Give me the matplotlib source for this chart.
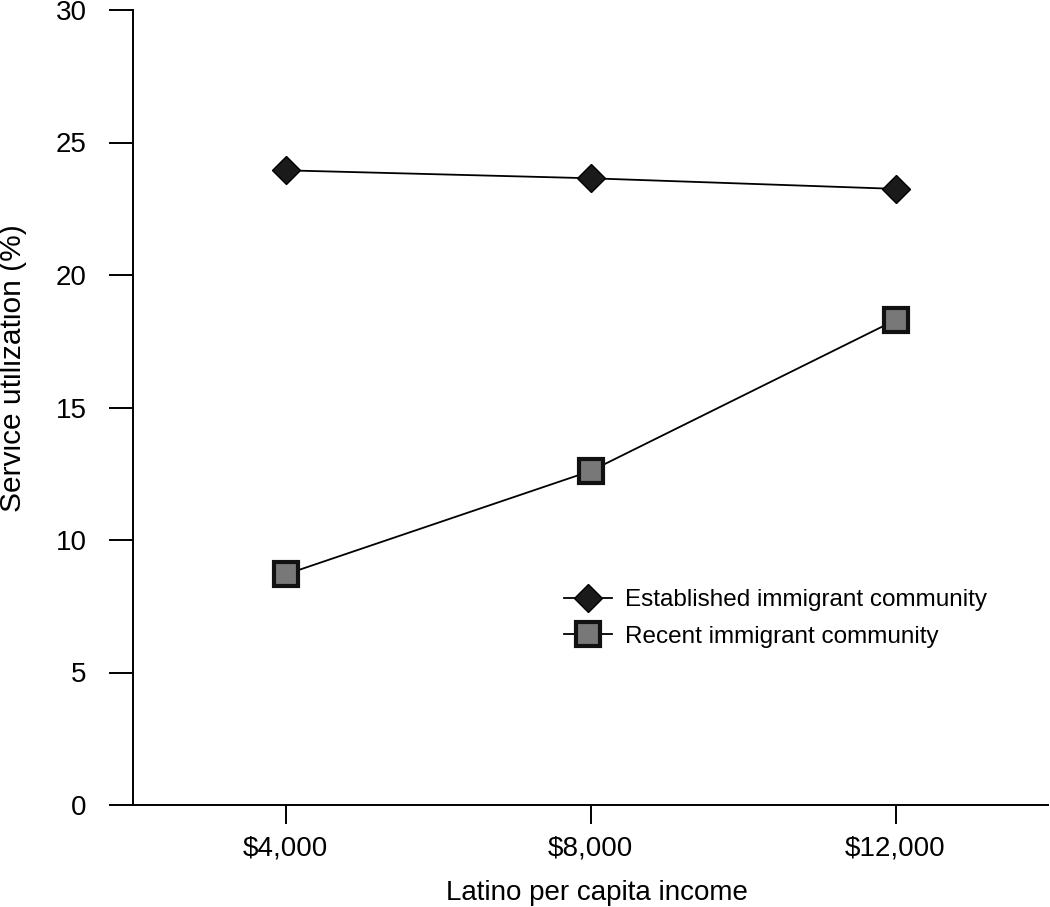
import matplotlib
matplotlib.use("Agg")
import matplotlib.pyplot as plt

income = [4000, 8000, 12000]
tick_labels = ["$4,000", "$8,000", "$12,000"]
established = [23.95, 23.65, 23.25]
recent = [8.7, 12.6, 18.3]
yticks = [0, 5, 10, 15, 20, 25, 30]

plt.rcParams['font.family'] = ['Liberation Sans', 'DejaVu Sans']

fig = plt.figure(figsize=(10.5, 9.07), dpi=100)
ax = fig.add_axes([133/1050, 102/907, (1048-133)/1050, (805-10)/907])

ax.plot(income, established, color='black', lw=1.3, marker='D', markersize=14,
        markerfacecolor='#1a1a1a', markeredgecolor='black', label='Established immigrant community')
ax.plot(income, recent, color='black', lw=1.3, marker='s', markersize=17,
        markerfacecolor='#787878', markeredgecolor='#111111', markeredgewidth=3,
        label='Recent immigrant community')

ax.set_xlim(2000, 14000)
ax.set_ylim(0, 30)
ax.set_xticks(income)
ax.set_xticklabels(tick_labels)
ax.set_yticks(yticks)
for s in ['top', 'right']:
    ax.spines[s].set_visible(False)
for s in ['left', 'bottom']:
    ax.spines[s].set_linewidth(1.4)
ax.tick_params(axis='y', length=17.3, width=1.4, labelsize=20, pad=16)
ax.tick_params(axis='x', length=13.7, width=1.4, labelsize=20, pad=8)
ax.set_xlabel('Latino per capita income', fontsize=20)
ax.set_ylabel('Service utilization (%)', fontsize=21.5)
ax.xaxis.set_label_coords(0.507, -0.094)
ax.yaxis.set_label_coords(-0.116, 0.55)

leg = ax.legend(loc='center left', bbox_to_anchor=(0.46, 0.2345), frameon=False,
                fontsize=17.5, handlelength=2.0, handletextpad=0.54, labelspacing=0.6,
                borderaxespad=0)

fig.savefig('out.png', dpi=100)
